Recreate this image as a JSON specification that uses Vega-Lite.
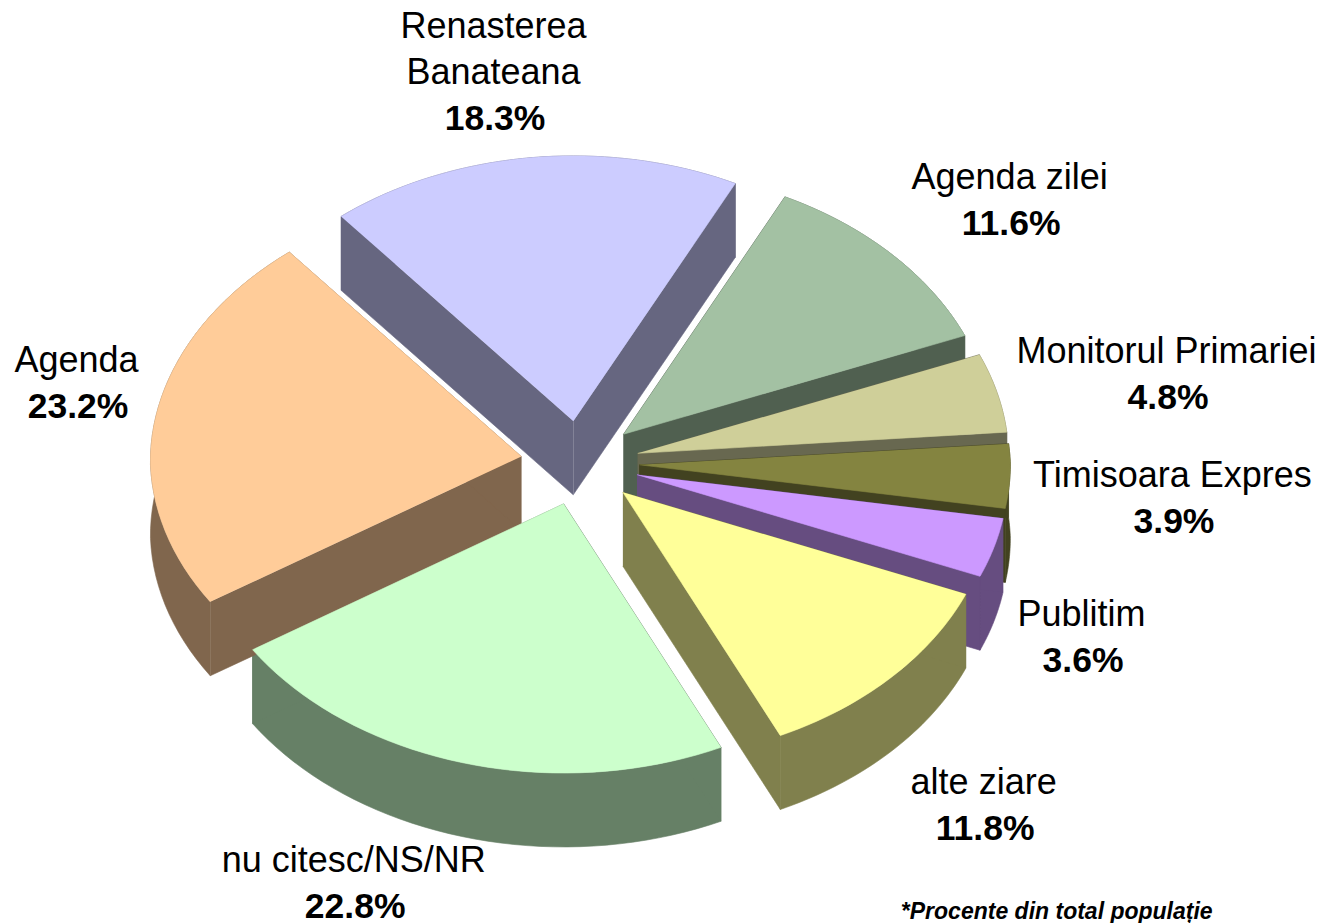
{"$schema":"https://vega.github.io/schema/vega-lite/v6.json","width":1320,"height":923,"padding":0,"autosize":{"type":"none"},"background":"white","view":{"stroke":null},
"data":{"values":[
{"seq":1,"slice":"Renasterea\nBanateana","share":18.3},
{"seq":2,"slice":"Agenda zilei","share":11.6},
{"seq":3,"slice":"Monitorul Primariei","share":4.8},
{"seq":4,"slice":"Timisoara Expres","share":3.9},
{"seq":5,"slice":"Publitim","share":3.6},
{"seq":6,"slice":"alte ziare","share":11.8},
{"seq":7,"slice":"nu citesc/NS/NR","share":22.8},
{"seq":8,"slice":"Agenda","share":23.2}]},
"transform":[
{"window":[{"op":"sum","field":"share","as":"cum"}],"sort":[{"field":"seq"}]},
{"calculate":"320.5+3.6*(datum.cum-datum.share)","as":"a0"},
{"calculate":"320.5+3.6*datum.cum","as":"a1"},
{"calculate":"(datum.a0+datum.a1)/2*PI/180","as":"mid"}
],
"layer":[
{"transform":[
{"calculate":"[0,1,2]","as":"p"},{"flatten":["p"]},
{"calculate":"sequence(0,82)","as":"k"},{"flatten":["k"]},
{"filter":"datum.p==0||datum.k<4"},
{"calculate":"datum.p==1?datum.a0:datum.p==2?datum.a1:(datum.k<=40?datum.a0+(datum.a1-datum.a0)*datum.k/40:datum.a1-(datum.a1-datum.a0)*(datum.k-41)/40)","as":"deg"},
{"calculate":"datum.p==0?1:((datum.k==0||datum.k==3)?0:1)","as":"ru"},
{"calculate":"(datum.p==0?datum.k>40:datum.k>=2)?0.279:0","as":"down"},
{"calculate":"0.16*cos(datum.mid)+datum.ru*cos(datum.deg*PI/180)","as":"v0"},
{"calculate":"(0.16*sin(datum.mid)+datum.ru*sin(datum.deg*PI/180))*(1-0.017*max(datum.v0,0))","as":"u"},
{"calculate":"datum.v0*(1-0.012*min(datum.v0,0))-datum.down","as":"v"}
],
"mark":{"type":"line","filled":true,"strokeWidth":0.6,"interpolate":"linear"},
"encoding":{
"x":{"field":"u","type":"quantitative","scale":{"domain":[-1.5633,1.9946],"nice":false,"zero":false},"axis":null},
"y":{"field":"v","type":"quantitative","scale":{"domain":[-1.7358,1.7472],"nice":false,"zero":false},"axis":null},
"detail":{"field":"p"},
"order":{"field":"k"},
"fill":{"field":"slice","type":"nominal","sort":null,"legend":null,"scale":{"domain":["Renasterea\nBanateana","Agenda zilei","Monitorul Primariei","Timisoara Expres","Publitim","alte ziare","nu citesc/NS/NR","Agenda"],"range":["#666680","#506050","#686850","#424220","#664D80","#80804D","#668066","#80664D"]}},
"stroke":{"field":"slice","type":"nominal","sort":null,"legend":null,"scale":{"domain":["Renasterea\nBanateana","Agenda zilei","Monitorul Primariei","Timisoara Expres","Publitim","alte ziare","nu citesc/NS/NR","Agenda"],"range":["#666680","#506050","#686850","#424220","#664D80","#80804D","#668066","#80664D"]}}
}},
{"transform":[
{"calculate":"sequence(0,42)","as":"k"},{"flatten":["k"]},
{"calculate":"datum.a0+(datum.a1-datum.a0)*min(datum.k,40)/40","as":"deg"},
{"calculate":"datum.k==41?0:1","as":"ru"},
{"calculate":"0.16*cos(datum.mid)+datum.ru*cos(datum.deg*PI/180)","as":"v0"},
{"calculate":"(0.16*sin(datum.mid)+datum.ru*sin(datum.deg*PI/180))*(1-0.017*max(datum.v0,0))","as":"u"},
{"calculate":"datum.v0*(1-0.012*min(datum.v0,0))","as":"v"}
],
"mark":{"type":"line","filled":true,"strokeWidth":0.6,"interpolate":"linear"},
"encoding":{
"x":{"field":"u","type":"quantitative","axis":null},
"y":{"field":"v","type":"quantitative","axis":null},
"order":{"field":"k"},
"fill":{"field":"slice","type":"nominal","sort":null,"legend":null,"scale":{"domain":["Renasterea\nBanateana","Agenda zilei","Monitorul Primariei","Timisoara Expres","Publitim","alte ziare","nu citesc/NS/NR","Agenda"],"range":["#CCCCFF","#A3C1A3","#CFCF99","#848440","#CC99FF","#FFFF99","#CCFFCC","#FFCC99"]}},
"stroke":{"field":"slice","type":"nominal","sort":null,"legend":null,"scale":{"domain":["Renasterea\nBanateana","Agenda zilei","Monitorul Primariei","Timisoara Expres","Publitim","alte ziare","nu citesc/NS/NR","Agenda"],"range":["#CCCCFF","#A3C1A3","#CFCF99","#848440","#CC99FF","#FFFF99","#CCFFCC","#FFCC99"]}}
}},
{"transform":[
{"calculate":"{'Renasterea\\nBanateana':[-0.229,1.257],'Agenda zilei':[1.162,0.86],'Monitorul Primariei':[1.585,0.204],'Timisoara Expres':[1.601,-0.264],'Publitim':[1.356,-0.789],'alte ziare':[1.092,-1.423],'nu citesc/NS/NR':[-0.606,-1.717],'Agenda':[-1.353,0.17]}[datum.slice]","as":"lab"},
{"calculate":"datum.lab[0]","as":"lu"},{"calculate":"datum.lab[1]","as":"lv"},
{"calculate":"datum.lv+(indexof(datum.slice,'\\n')>=0?0.1736:0)","as":"nv"},
{"calculate":"format(datum.share,'.1f')+'%'","as":"pct"}
],
"layer":[
{"mark":{"type":"text","font":"Liberation Sans","fontSize":35.5,"fontWeight":"bold","align":"center","baseline":"alphabetic","color":"#000000"},
"encoding":{"x":{"field":"lu","type":"quantitative","axis":null},"y":{"field":"lv","type":"quantitative","axis":null},"text":{"field":"pct"}}},
{"mark":{"type":"text","font":"Liberation Sans","fontSize":36,"align":"center","baseline":"bottom","lineBreak":"\n","lineHeight":46,"dx":-1.5,"dy":-38,"color":"#000000"},
"encoding":{"x":{"field":"lu","type":"quantitative","axis":null},"y":{"field":"nv","type":"quantitative","axis":null},"text":{"field":"slice"}}}
]},
{"data":{"values":[{"note":"*Procente din total populație"}]},"transform":[],
"mark":{"type":"text","font":"Liberation Sans","fontSize":23,"fontWeight":"bold","fontStyle":"italic","align":"center","baseline":"alphabetic","color":"#000000"},
"encoding":{"x":{"datum":1.285,"type":"quantitative"},"y":{"datum":-1.722,"type":"quantitative"},"text":{"field":"note"}}}
],
"resolve":{"scale":{"fill":"independent","stroke":"independent"}}}
